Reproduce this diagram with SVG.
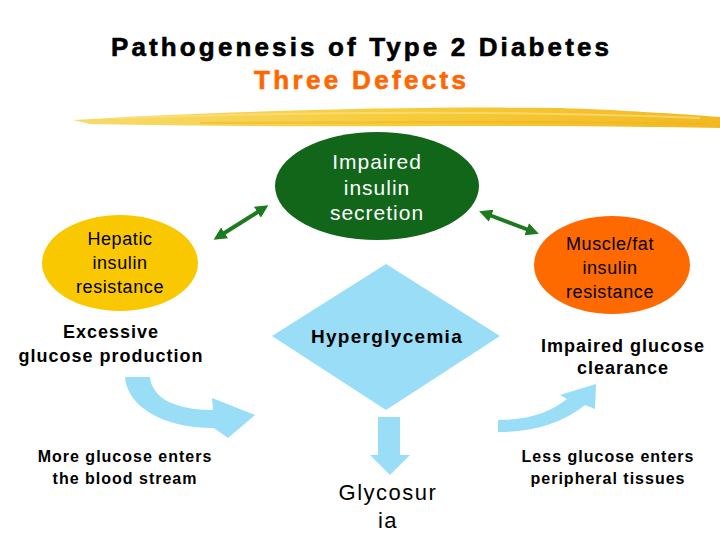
<svg xmlns="http://www.w3.org/2000/svg" width="720" height="540" viewBox="0 0 720 540">
<style>
text{font-family:"Liberation Sans",Arial,sans-serif;text-anchor:middle}
.title{font-size:26px;font-weight:bold;stroke:currentColor;stroke-width:0.6px}
.node{font-size:18px;letter-spacing:0.6px}
.bold{font-size:18px;font-weight:bold;letter-spacing:1px}
.small{font-size:16px;font-weight:bold;letter-spacing:1px}
.blue{fill:#99DDF7}
.link{stroke:#1E7A1E;stroke-width:4;fill:none;marker-start:url(#ah);marker-end:url(#ah)}
</style>
<defs>
<marker id="ah" viewBox="0 0 10 10" refX="6" refY="5" markerWidth="13" markerHeight="13" markerUnits="userSpaceOnUse" orient="auto-start-reverse">
<path d="M0,0 L10,5 L0,10 Z" fill="#1E7A1E"/>
</marker>
<linearGradient id="hl" x1="0" y1="0" x2="1" y2="0">
<stop offset="0" stop-color="#F8DA6A"/>
<stop offset="0.5" stop-color="#F6CC3C"/>
<stop offset="1" stop-color="#F2B922"/>
</linearGradient>
</defs>
<rect width="720" height="540" fill="#FFFFFF"/>
<g id="title">
<text class="title" x="360" y="56" fill="#000000" color="#000000" textLength="498" lengthAdjust="spacing">Pathogenesis of Type 2 Diabetes</text>
<text class="title" x="360" y="89" fill="#FF6600" color="#FF6600" textLength="212" lengthAdjust="spacing">Three Defects</text>
<path d="M73,120 C200,112 400,106 560,108 C620,110 680,114 720,117 L720,128 C660,127 600,126 540,126 C400,126 250,127 90,124 Z" fill="url(#hl)"/>
<path d="M120,118 C300,112 500,110 700,118" stroke="#FBE28A" stroke-width="2" fill="none" opacity="0.6"/>
<path d="M200,123 C400,122 550,121 710,124" stroke="#EFB21A" stroke-width="2" fill="none" opacity="0.5"/>
</g>
<g id="connectors">
<line class="link" x1="218" y1="237" x2="264" y2="208"/>
<line class="link" x1="484" y1="213" x2="534" y2="232"/>
<path class="blue" d="M125,377 L150,377 C152,398 175,410 213,410 L212,398 L255,415 L228,438 L214,428 C160,428 127,405 125,377 Z"/>
<path class="blue" d="M378,417 L400,417 L400,455 L410,455 L390,475 L370,455 L378,455 Z"/>
<path class="blue" d="M498,420 C530,420 550,412 567,399 L560,395 L596,384 L595,409 L585,405 C560,425 530,432 498,432 Z"/>
</g>
<g id="secretion">
<ellipse cx="377" cy="186" rx="102" ry="54" fill="#11661A"/>
<text x="377" y="169" fill="#FFFFFF" style="font-size:21px;letter-spacing:1px">Impaired</text>
<text x="377" y="195" fill="#FFFFFF" style="font-size:21px;letter-spacing:1px">insulin</text>
<text x="377" y="220" fill="#FFFFFF" style="font-size:21px;letter-spacing:1px">secretion</text>
</g>
<g id="hepatic">
<ellipse cx="120" cy="263" rx="78" ry="48" fill="#F9C800"/>
<text class="node" x="120" y="245">Hepatic</text>
<text class="node" x="120" y="269">insulin</text>
<text class="node" x="120" y="293">resistance</text>
</g>
<g id="muscle">
<ellipse cx="612" cy="265" rx="78" ry="49" fill="#FF6A00"/>
<text class="node" x="610" y="250">Muscle/fat</text>
<text class="node" x="610" y="274">insulin</text>
<text class="node" x="610" y="298">resistance</text>
</g>
<g id="hyperglycemia">
<path class="blue" d="M386,264 L500,336 L386,410 L272,336 Z"/>
<text x="387" y="343" style="font-size:19px;font-weight:bold;letter-spacing:1.3px">Hyperglycemia</text>
</g>
<g id="excessive">
<text class="bold" x="111" y="338">Excessive</text>
<text class="bold" x="111" y="362">glucose production</text>
</g>
<g id="clearance">
<text class="bold" x="623" y="352">Impaired glucose</text>
<text class="bold" x="623" y="374">clearance</text>
</g>
<g id="more">
<text class="small" x="125" y="462">More glucose enters</text>
<text class="small" x="125" y="484">the blood stream</text>
</g>
<g id="less">
<text class="small" x="608" y="462">Less glucose enters</text>
<text class="small" x="608" y="484">peripheral tissues</text>
</g>
<g id="glycosuria">
<text x="388" y="500" style="font-size:22px;letter-spacing:1.5px">Glycosur</text>
<text x="388" y="528" style="font-size:22px;letter-spacing:1.5px">ia</text>
</g>
</svg>
